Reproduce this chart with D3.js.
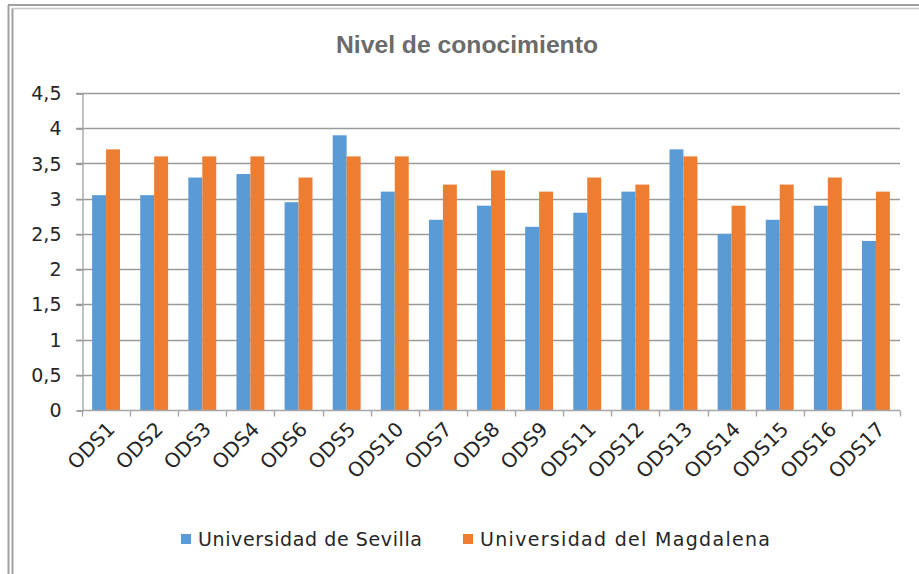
<!DOCTYPE html>
<html>
<head>
<meta charset="utf-8">
<script src="https://cdn.jsdelivr.net/npm/d3@7"></script>
<style>
  body { margin: 0; background: #fff; }
  svg { display: block; }
</style>
</head>
<body>
<script>
// datos
const categorias = ["ODS1", "ODS2", "ODS3", "ODS4", "ODS6", "ODS5", "ODS10", "ODS7", "ODS8",
                    "ODS9", "ODS11", "ODS12", "ODS13", "ODS14", "ODS15", "ODS16", "ODS17"];
const sevilla   = [3.05, 3.05, 3.3, 3.35, 2.95, 3.9, 3.1, 2.7, 2.9, 2.6, 2.8, 3.1, 3.7, 2.5, 2.7, 2.9, 2.4];
const magdalena = [3.7, 3.6, 3.6, 3.6, 3.3, 3.6, 3.6, 3.2, 3.4, 3.1, 3.3, 3.2, 3.6, 2.9, 3.2, 3.3, 3.1];
const series = ["Universidad de Sevilla", "Universidad del Magdalena"];
const ticksY = [0, 0.5, 1, 1.5, 2, 2.5, 3, 3.5, 4, 4.5];

let width = 919, height = 574;
let margin = { top: 93, bottom: 164, left: 82, right: 19 };
const colores = ["#5b9bd5", "#ed7d31"];
const gris = "#a6a6a6";
const fuente = "'DejaVu Sans', Verdana, sans-serif";

const datos = categorias.map((c, i) => ({ cat: c, valores: [sevilla[i], magdalena[i]] }));

let svg = d3.select("body").append("svg")
    .attr("width", width)
    .attr("height", height);

/* marco */
svg.append("line").attr("x1", 8.5).attr("x2", 8.5).attr("y1", 5).attr("y2", height)
   .attr("stroke", "#a0a0a0").attr("stroke-width", 2);
svg.append("line").attr("x1", 12.5).attr("x2", 12.5).attr("y1", 8).attr("y2", height)
   .attr("stroke", "#a0a0a0").attr("stroke-width", 2);
svg.append("line").attr("x1", 8).attr("x2", width).attr("y1", 5).attr("y2", 5)
   .attr("stroke", "#a0a0a0").attr("stroke-width", 2);
svg.append("line").attr("x1", 12).attr("x2", width).attr("y1", 8.5).attr("y2", 8.5)
   .attr("stroke", "#c8c8c8").attr("stroke-width", 1.5);

/* escalas */
let escalaY = d3.scaleLinear()
    .domain([0, 4.5])
    .range([height - margin.bottom, margin.top]);

let escalaX = d3.scaleBand()
    .domain(categorias)
    .range([margin.left, width - margin.right])
    .paddingInner(0.42)
    .paddingOuter(0.21);

let escalaCat = d3.scaleBand()
    .domain(categorias)
    .range([margin.left, width - margin.right])
    .padding(0);

let escalaSerie = d3.scaleBand()
    .domain([0, 1])
    .range([0, escalaX.bandwidth()]);

/* titulo */
svg.append("text")
   .attr("x", 467)
   .attr("y", 53)
   .attr("text-anchor", "middle")
   .attr("textLength", 262)
   .attr("lengthAdjust", "spacingAndGlyphs")
   .style("font-family", "'Liberation Sans', Arial, sans-serif")
   .style("font-size", "24px")
   .style("font-weight", "bold")
   .style("fill", "#6b6b6b")
   .text("Nivel de conocimiento");

/* lineas de cuadricula */
svg.append("g")
   .selectAll("line")
   .data(ticksY.filter(d => d > 0))
   .join("line")
   .attr("x1", margin.left - 6)
   .attr("x2", width - margin.right)
   .attr("y1", d => Math.round(escalaY(d)) + 0.5)
   .attr("y2", d => Math.round(escalaY(d)) + 0.5)
   .attr("stroke", "#9a9a9a")
   .attr("stroke-width", 1.4);

/* eje Y */
let ejeY = d3.axisLeft(escalaY)
    .tickValues(ticksY)
    .tickSize(6)
    .tickPadding(15)
    .tickFormat(d => String(d).replace(".", ","));
let gY = svg.append("g")
    .attr("transform", "translate(" + (margin.left + 0.5) + ",0.5)")
    .call(ejeY);
gY.select(".domain").attr("stroke", gris).attr("stroke-width", 1.4);
gY.selectAll(".tick line").attr("stroke", "#9a9a9a").attr("stroke-width", 1.4);
gY.selectAll(".tick text")
  .style("font-family", fuente)
  .style("font-size", "19px")
  .style("fill", "#262626");

/* barras */
let grupos = svg.append("g")
    .selectAll("g")
    .data(datos)
    .join("g")
    .attr("transform", d => "translate(" + escalaX(d.cat) + ",0)");

grupos.selectAll("rect")
    .data(d => d.valores)
    .join("rect")
    .attr("x", (d, i) => escalaSerie(i))
    .attr("y", d => escalaY(d))
    .attr("width", escalaSerie.bandwidth())
    .attr("height", d => escalaY(0) - escalaY(d))
    .attr("fill", (d, i) => colores[i]);

/* eje X */
let base = Math.round(escalaY(0)) + 0.5;
svg.append("line")
   .attr("x1", margin.left).attr("x2", width - margin.right)
   .attr("y1", base).attr("y2", base)
   .attr("stroke", gris).attr("stroke-width", 1.4);

let limites = categorias.map(c => escalaCat(c)).concat([width - margin.right]);
svg.append("g")
   .selectAll("line")
   .data(limites)
   .join("line")
   .attr("x1", d => Math.round(d) + 0.5)
   .attr("x2", d => Math.round(d) + 0.5)
   .attr("y1", base)
   .attr("y2", base + 6)
   .attr("stroke", gris)
   .attr("stroke-width", 1.4);

let ejeX = d3.axisBottom(escalaCat).tickSize(0).tickPadding(0);
let gX = svg.append("g")
    .attr("transform", "translate(0," + base + ")")
    .call(ejeX);
gX.select(".domain").remove();
gX.selectAll(".tick text")
  .attr("text-anchor", "end")
  .attr("dy", "0")
  .attr("transform", "translate(10,20) rotate(-45)")
  .style("font-family", fuente)
  .style("font-size", "20px")
  .style("fill", "#262626");

/* leyenda */
let posLeyenda = [181, 463];
let anchoTexto = [224, 290];
let leyenda = svg.append("g")
    .selectAll("g")
    .data(series)
    .join("g")
    .attr("transform", (d, i) => "translate(" + posLeyenda[i] + ",539)");
leyenda.append("rect")
    .attr("x", 0).attr("y", -5)
    .attr("width", 10).attr("height", 10)
    .attr("fill", (d, i) => colores[i]);
leyenda.append("text")
    .attr("x", 17)
    .attr("y", 7)
    .attr("textLength", (d, i) => anchoTexto[i])
    .attr("lengthAdjust", "spacing")
    .style("font-family", fuente)
    .style("font-size", "19px")
    .style("fill", "#262626")
    .text(d => d);
</script>
</body>
</html>
